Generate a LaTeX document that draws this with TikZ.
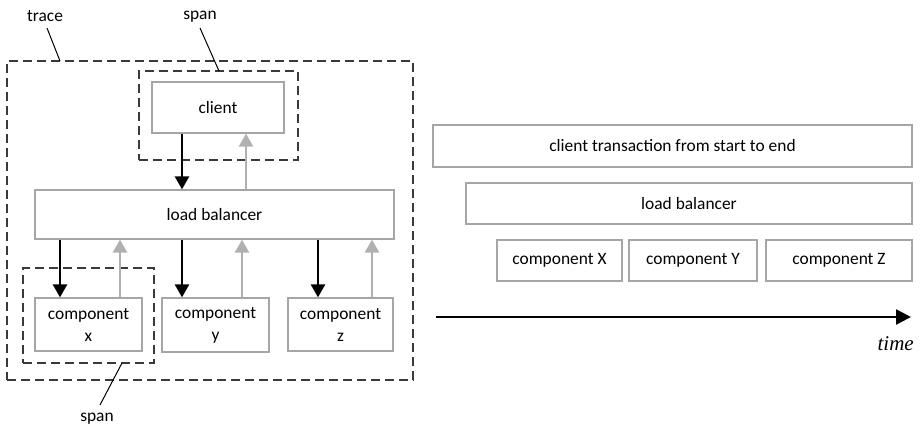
\documentclass[tikz,border=0pt]{standalone}
\usepackage{fontspec}
\setmainfont{Carlito}
\newfontfamily\axisfont{Liberation Serif}
\usetikzlibrary{arrows.meta}
\definecolor{boxline}{HTML}{A6A6A6}
\definecolor{retline}{HTML}{B0B0B0}
\definecolor{dashline}{HTML}{3A3A3A}
\definecolor{txt}{HTML}{000000}
\tikzset{
  box/.style={draw=boxline, line width=1.2pt, fill=white, inner sep=0pt,
    text=txt, font=\fontsize{17.4}{22}\selectfont, align=center},
  group/.style={draw=dashline, line width=1.5pt, dash pattern=on 9pt off 5pt,
    inner sep=0pt},
  lbl/.style={text=txt, font=\fontsize{17.4}{22}\selectfont, inner sep=0pt},
  leader/.style={draw=txt, line width=1pt},
  call/.style={draw=black, line width=2.6pt,
    -{Triangle[width=14pt,length=13pt]}},
  reply/.style={draw=retline, line width=2.6pt,
    -{Triangle[width=14pt,length=13pt]}},
}
\begin{document}
\begin{tikzpicture}[x=1pt, y=-1pt]
\useasboundingbox (0,0) rectangle (921,426);

% grouping frames: the whole trace and two spans
\node[group, minimum width=406pt, minimum height=319pt] (trace) at (210,220.5) {};
\node[group, minimum width=159pt, minimum height=89pt] (spanA) at (218.5,115.5) {};
\node[group, minimum width=131pt, minimum height=95pt] (spanB) at (88.5,315.5) {};

% services in the call tree
\node[box, minimum width=132pt, minimum height=51pt] (client) at (218,107.5) {client};
\node[box, minimum width=359pt, minimum height=49pt] (lb) at (214.5,214.5) {load balancer};
\node[box, minimum width=107pt, minimum height=53pt] (cx) at (88.5,324.5) {component\\x};
\node[box, minimum width=107pt, minimum height=54pt] (cy) at (215.5,325) {component\\y};
\node[box, minimum width=105pt, minimum height=53pt] (cz) at (340.5,324.5) {component\\z};

% requests (black) and responses (grey)
\draw[call]  (client.south -| 182,0) -- (lb.north -| 182,0);
\draw[reply] (lb.north -| 246,0) -- (client.south -| 246,0);
\draw[call]  (lb.south -| 60,0)  -- (cx.north -| 60,0);
\draw[reply] (cx.north -| 120,0) -- (lb.south -| 120,0);
\draw[call]  (lb.south -| 182,0) -- (cy.north -| 182,0);
\draw[reply] (cy.north -| 242,0) -- (lb.south -| 242,0);
\draw[call]  (lb.south -| 318,0) -- (cz.north -| 318,0);
\draw[reply] (cz.north -| 372,0) -- (lb.south -| 372,0);

% labels with leader lines
\node[lbl] (tlabel) at (45,16) {trace};
\coordinate (tpin) at (60,61);
\draw[leader] (47,28) -- (tpin);
\node[lbl] (slabelA) at (200,17) {span};
\coordinate (spinA) at (219,71);
\draw[leader] (200,28) -- (spinA);
\node[lbl] (slabelB) at (97,419) {span};
\coordinate (spinB) at (122,363);
\draw[leader] (spinB) -- (100,405);

% timeline view
\node[box, minimum width=479pt, minimum height=42pt] (tclient) at (672.5,146) {client transaction from start to end};
\node[box, minimum width=446pt, minimum height=41pt] (tlb) at (689,203.5) {load balancer};
\node[box, minimum width=125pt, minimum height=41pt] (tcx) at (559.5,260.5) {component X};
\node[box, minimum width=128pt, minimum height=41pt] (tcy) at (693,260.5) {component Y};
\node[box, minimum width=146pt, minimum height=41pt] (tcz) at (839,260.5) {component Z};

\coordinate (tstart) at (436,317);
\coordinate (tend) at (911,317);
\draw[draw=black, line width=2.6pt, -{Triangle[width=15pt,length=15pt]}] (tstart) -- (tend);
\node[anchor=base east, inner sep=0pt, text=txt, font=\axisfont\itshape\fontsize{21}{24}\selectfont] (tlabel2) at (914,350) {time};
\end{tikzpicture}
\end{document}
